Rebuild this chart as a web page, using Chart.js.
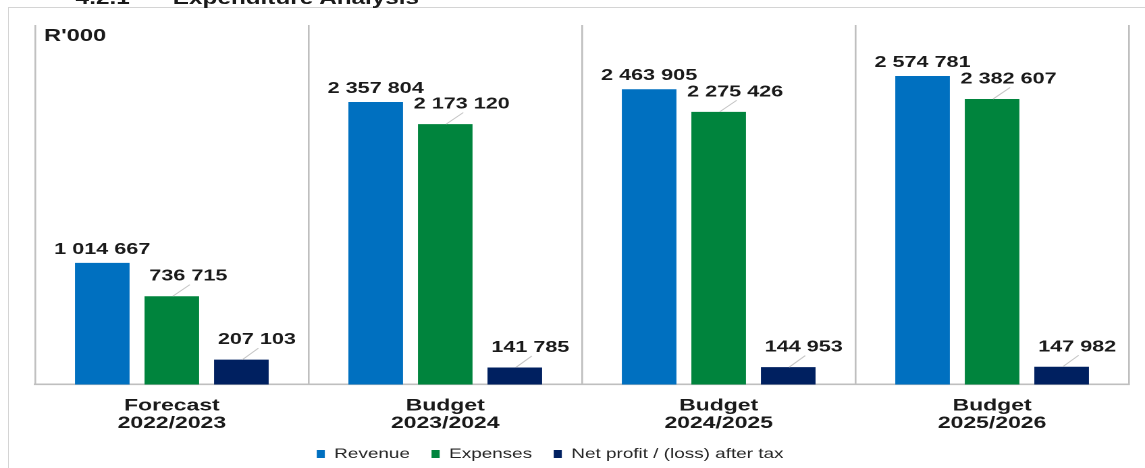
<!DOCTYPE html>
<html>
<head>
<meta charset="utf-8">
<script src="https://cdn.jsdelivr.net/npm/chart.js@4/dist/chart.umd.min.js"></script>
<style>
html,body{margin:0;padding:0;background:#fff;overflow:hidden;width:1145px;height:468px;}
#frame{position:absolute;left:8px;top:7px;width:1300px;height:600px;border-left:1px solid #d4d4d4;border-top:1px solid #d4d4d4;}
#stretch{position:absolute;left:0;top:0;width:848px;height:468px;transform-origin:0 0;transform:scaleX(1.350236);}
.ttl{position:absolute;top:-11px;font:bold 18px "Liberation Sans",Arial,sans-serif;color:#1a1a1a;white-space:nowrap;line-height:18px;}
canvas{position:absolute;left:0;top:0;}
</style>
</head>
<body>
<div id="frame"></div>
<div id="stretch">
  <div class="ttl" style="left:56px">4.2.1</div>
  <div class="ttl" style="left:128px">Expenditure Analysis</div>
  <canvas id="c" width="848" height="468"></canvas>
</div>
<script>
const S = 1145 / 848;

const categories = [['Forecast', '2022/2023'], ['Budget', '2023/2024'], ['Budget', '2024/2025'], ['Budget', '2025/2026']];
const revenue = [1014667, 2357804, 2463905, 2574781];
const expenses = [736715, 2173120, 2275426, 2382607];
const netProfit = [207103, 141785, 144953, 147982];
const seriesNames = ['Revenue', 'Expenses', 'Net profit / (loss) after tax'];
const unitLabel = "R'000";
const yMin = 0;
const yMax = 3000000;

const colors = ['#0070c0', '#00843d', '#002060'];
// label offsets in reference pixels (dx right, dy above bar top)
const labelStyle = [
  {dx: 0, dy: 9, leader: false},
  {dx: 16.5, dy: 15.5, leader: true},
  {dx: 15.5, dy: 15.5, leader: true}
];

function fmt(v) {
  return String(v).replace(/\B(?=(\d{3})+(?!\d))/g, ' ');
}

const valueLabels = {
  id: 'valueLabels',
  afterDatasetsDraw(chart) {
    const ctx = chart.ctx;
    ctx.save();
    ctx.font = 'bold 16px "Liberation Sans", Arial, sans-serif';
    ctx.textAlign = 'center';
    ctx.textBaseline = 'alphabetic';
    chart.data.datasets.forEach((ds, i) => {
      const meta = chart.getDatasetMeta(i);
      const o = labelStyle[i];
      meta.data.forEach((bar, j) => {
        const x = bar.x, top = bar.y;
        const lx = x + o.dx / S;
        const ly = top - o.dy;
        if (o.leader) {
          ctx.strokeStyle = '#c4c4c4';
          ctx.lineWidth = 0.9;
          ctx.beginPath();
          ctx.moveTo(x + 1 / S, top);
          ctx.lineTo(lx + 1.5 / S, ly + 4);
          ctx.stroke();
        }
        ctx.fillStyle = '#1a1a1a';
        ctx.fillText(fmt(ds.data[j]), lx, ly);
      });
    });
    ctx.textAlign = 'left';
    ctx.font = 'bold 17.5px "Liberation Sans", Arial, sans-serif';
    ctx.fillStyle = '#1a1a1a';
    ctx.fillText(unitLabel, chart.chartArea.left + 6.6, 41);
    ctx.restore();
  }
};

const legendShift = {
  id: 'legendShift',
  afterLayout(chart) {
    const l = chart.legend;
    if (l) {
      l.left -= 23.6; l.right -= 23.6;
      l.top -= 13.5; l.bottom -= 13.5;
    }
  }
};

new Chart(document.getElementById('c'), {
  type: 'bar',
  data: {
    labels: categories,
    datasets: [
      {label: seriesNames[0], data: revenue, backgroundColor: colors[0], borderWidth: 0},
      {label: seriesNames[1], data: expenses, backgroundColor: colors[1], borderWidth: 0},
      {label: seriesNames[2], data: netProfit, backgroundColor: colors[2], borderWidth: 0}
    ]
  },
  options: {
    responsive: false,
    animation: false,
    devicePixelRatio: 2,
    events: [],
    barPercentage: 0.785,
    categoryPercentage: 0.763,
    layout: {padding: {left: 26, right: 12, top: 25, bottom: -16.5}},
    scales: {
      x: {
        grid: {display: true, drawTicks: false, color: '#bfbfbf', lineWidth: 1.3, offset: true},
        border: {display: true, color: '#bfbfbf', width: 1.6},
        ticks: {
          padding: 12.5,
          color: '#1a1a1a',
          font: {family: '"Liberation Sans", Arial, sans-serif', size: 17, weight: 'bold', lineHeight: '17.5px'}
        }
      },
      y: {display: false, min: yMin, max: yMax}
    },
    plugins: {
      legend: {
        position: 'bottom',
        labels: {
          boxWidth: 6,
          boxHeight: 8,
          padding: 16,
          color: '#262626',
          font: {family: '"Liberation Sans", Arial, sans-serif', size: 14}
        }
      },
      tooltip: {enabled: false},
      title: {display: false}
    }
  },
  plugins: [valueLabels, legendShift]
});
</script>
</body>
</html>
